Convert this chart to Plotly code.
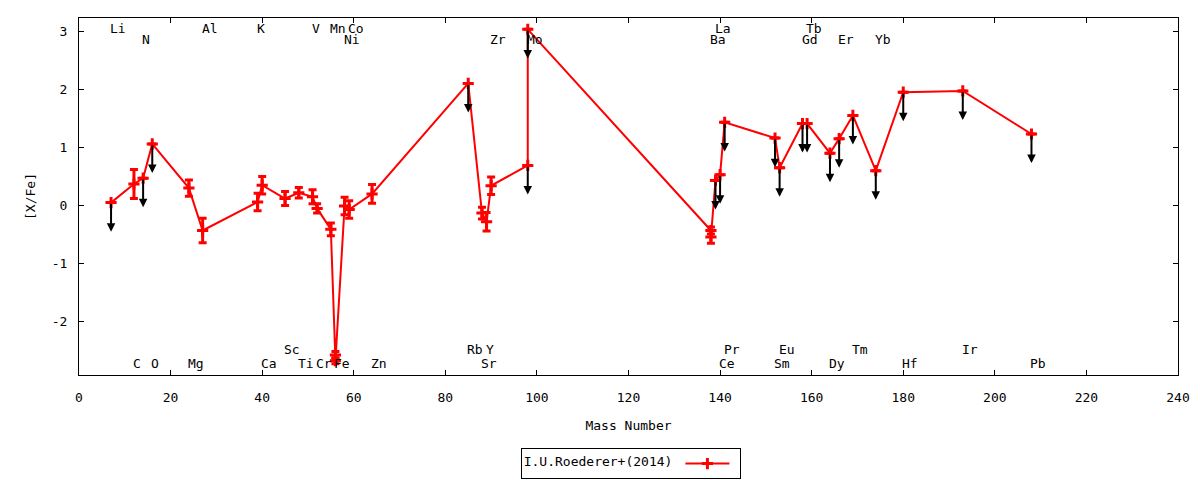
import plotly.graph_objects as go

# abundances (mass number of the main isotope on x)
elem = ["Li", "C", "N", "O", "Mg", "Al", "K", "Ca", "Sc", "Ti", "V", "Cr", "Mn",
        "Fe", "Fe", "Ni", "Co", "Zn", "Rb", "Sr", "Y", "Zr", "Mo", "Mo",
        "Ba", "Ba", "La", "Ce", "Pr", "Sm", "Eu", "Gd", "Tb", "Dy", "Er", "Tm",
        "Yb", "Hf", "Ir", "Pb"]
mass = [7, 12, 14, 16, 24, 27, 39, 40, 45, 48, 51, 52, 55,
        56, 56, 58, 59, 64, 85, 88, 89, 90, 98, 98,
        138, 138, 139, 140, 141, 152, 153, 158, 159, 164, 166, 169,
        174, 180, 193, 208]
xfe = [0.05, 0.37, 0.47, 1.06, 0.30, -0.43, 0.06, 0.35, 0.12, 0.22, 0.15, -0.05, -0.41,
       -2.57, -2.67, -0.01, -0.07, 0.20, 2.10, -0.13, -0.28, 0.34, 0.69, 3.03,
       -0.43, -0.54, 0.43, 0.53, 1.43, 1.16, 0.65, 1.41, 1.41, 0.90, 1.15, 1.55,
       0.60, 1.95, 1.97, 1.23]
err = [0, 0.25, 0, 0, 0.14, 0.21, 0.15, 0.15, 0.12, 0.09, 0.12, 0.08, 0.11,
       0.06, 0.05, 0.15, 0.15, 0.16, 0, 0.10, 0.16, 0.15, 0, 0,
       0.06, 0.11, 0, 0, 0, 0, 0, 0, 0, 0, 0, 0,
       0, 0, 0, 0]
# 1 = upper limit
upper = [1, 0, 1, 1, 0, 0, 0, 0, 0, 0, 0, 0, 0,
         0, 0, 0, 0, 0, 1, 0, 0, 0, 1, 1,
         0, 0, 1, 1, 1, 1, 1, 1, 1, 1, 1, 1,
         1, 1, 1, 1]
arrow_len = 0.5

# element names written along top and bottom
top1_el = ["Li", "Al", "K", "V", "Mn", "Co", "La", "Tb"]
top1_m = [7, 27, 39, 51, 55, 59, 139, 159]
top2_el = ["N", "Ni", "Zr", "Mo", "Ba", "Gd", "Er", "Yb"]
top2_m = [14, 58, 90, 98, 138, 158, 166, 174]
bot1_el = ["Sc", "Rb", "Y", "Pr", "Eu", "Tm", "Ir"]
bot1_m = [45, 85, 89, 141, 153, 169, 193]
bot2_el = ["C", "O", "Mg", "Ca", "Ti", "Cr", "Fe", "Zn", "Sr", "Ce", "Sm", "Dy", "Hf", "Pb"]
bot2_m = [12, 16, 24, 40, 48, 52, 56, 64, 88, 140, 152, 164, 180, 208]

xticks = [0, 20, 40, 60, 80, 100, 120, 140, 160, 180, 200, 220, 240]
yticks = [-2, -1, 0, 1, 2, 3]
yticktext = ["-2", "-1", "0", "1", "2", "3"]

FONT = "DejaVu Sans Mono"

fig = go.Figure()

fig.add_trace(go.Scatter(
    x=mass, y=xfe, mode="lines+markers", name="",
    text=elem,
    line=dict(color="#ff0000", width=2),
    marker=dict(symbol="cross-thin", size=8, line=dict(color="#ff0000", width=3)),
    error_y=dict(type="data", array=err, visible=True, color="#ff0000",
                 thickness=3, width=4),
    showlegend=True,
))

anns = []
# arrows for upper limits
for m, v, u in zip(mass, xfe, upper):
    if u:
        anns.append(dict(x=m, y=v - arrow_len, ax=m, ay=v, xref="x", yref="y",
                         axref="x", ayref="y", text="", showarrow=True,
                         arrowhead=2, arrowsize=0.85, arrowwidth=2,
                         arrowcolor="black", standoff=0, startstandoff=0))

# element labels
for names, ms, yy in [(top1_el, top1_m, 3.05), (top2_el, top2_m, 2.86),
                      (bot1_el, bot1_m, -2.47), (bot2_el, bot2_m, -2.71)]:
    for n, m in zip(names, ms):
        anns.append(dict(x=m, y=yy, xref="x", yref="y", text=n, showarrow=False,
                         xanchor="left", yanchor="middle", xshift=-3,
                         font=dict(family=FONT, size=13, color="black")))

# the page adds ~7px of body margin, so the margins are shifted by that much
fig.update_layout(
    width=1200, height=480,
    margin=dict(l=71, r=30, t=10, b=113, autoexpand=False),
    paper_bgcolor="white", plot_bgcolor="white",
    font=dict(family=FONT, size=13, color="black"),
    annotations=anns,
    showlegend=True,
    legend=dict(
        x=0.502, xanchor="center", y=-0.248, yanchor="middle",
        orientation="h",
        title=dict(text="I.U.Roederer+(2014)", side="left",
                   font=dict(family=FONT, size=13)),
        bordercolor="black", borderwidth=1,
        font=dict(family=FONT, size=8),
        itemwidth=44, tracegroupgap=0,
    ),
)

fig.update_xaxes(
    range=[0, 240], tickvals=xticks, automargin=False,
    showline=True, linecolor="black", linewidth=1, mirror="ticks",
    ticks="inside", ticklen=5, tickcolor="black",
    showgrid=False, zeroline=False, ticklabelstandoff=10,
    title=dict(text="Mass Number", standoff=17, font=dict(family=FONT, size=13)),
)
fig.update_yaxes(
    range=[-2.915, 3.225], tickvals=yticks, ticktext=yticktext, automargin=False,
    showline=True, linecolor="black", linewidth=1, mirror="ticks",
    ticks="inside", ticklen=5, tickcolor="black",
    showgrid=False, zeroline=False, ticklabelstandoff=8,
    title=dict(text="[X/Fe]", standoff=13, font=dict(family=FONT, size=13)),
)

fig.write_html("out.html")
